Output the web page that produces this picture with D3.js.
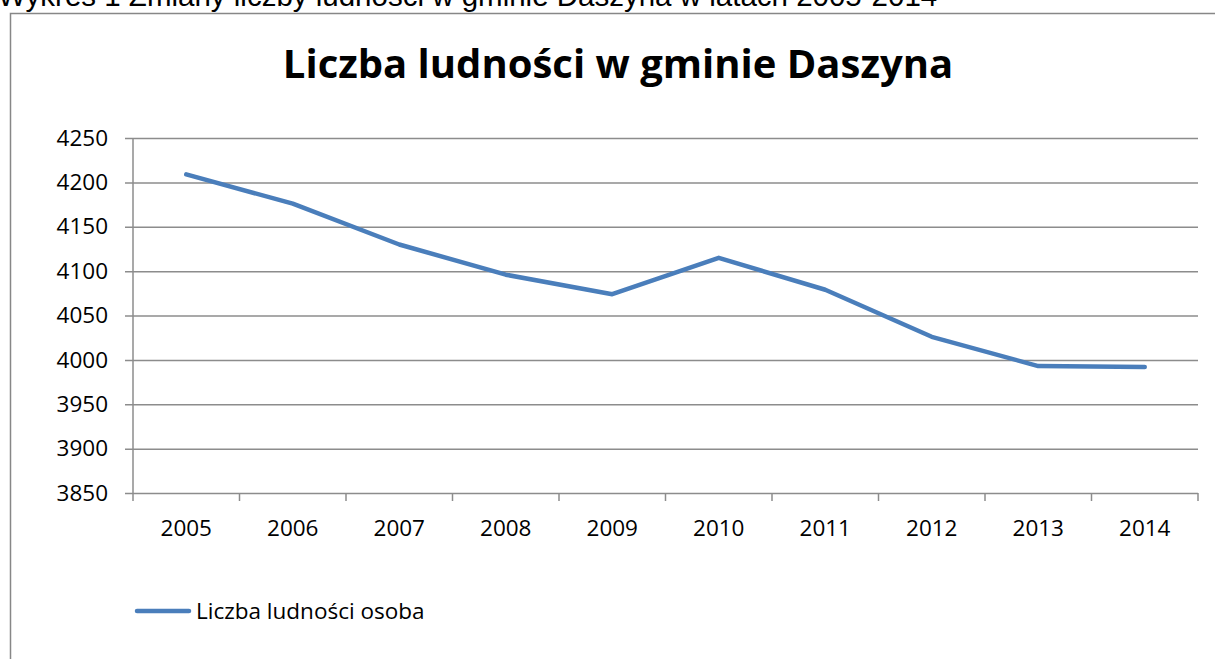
<!DOCTYPE html>
<html>
<head>
<meta charset="utf-8">
<script src="https://cdn.jsdelivr.net/npm/d3@7"></script>
<style>
	body { margin: 0; background: #fff; overflow: hidden; }
	svg { display: block; }
	.caption { font-family: 'Liberation Sans', Arial, sans-serif; font-size: 29.5px; fill: #000; }
	.title { font-family: 'Open Sans', 'Noto Sans', sans-serif; font-weight: bold; font-size: 40px; fill: #000; }
	.labels text { font-family: 'Open Sans', 'Noto Sans', sans-serif; font-size: 22.5px; fill: #000; }
	.labels line, .labels path { stroke: #8c8c8c; stroke-width: 1.5; }
	.legend-text { font-family: 'Open Sans', 'Noto Sans', sans-serif; font-size: 22.5px; fill: #000; }
</style>
</head>
<body>
<svg></svg>
<script>
const years = ['2005', '2006', '2007', '2008', '2009', '2010', '2011', '2012', '2013', '2014'];
const population = [4209, 4176, 4130, 4096, 4074, 4115, 4079, 4026, 3993, 3992];
const yTicks = [3850, 3900, 3950, 4000, 4050, 4100, 4150, 4200, 4250];
const seriesName = 'Liczba ludności osoba';
const chartTitle = 'Liczba ludności w gminie Daszyna';
const caption = 'Wykres 1 Zmiany liczby ludności w gminie Daszyna w latach 2005-2014';

const width = 1215;
const height = 659;
const margin = { top: 138, right: 17, bottom: 166, left: 133 };
const innerWidth = width - margin.left - margin.right;
const innerHeight = height - margin.top - margin.bottom;

const svg = d3.select('svg')
	.attr('width', width)
	.attr('height', height);

// caption above the chart frame, cut off by the page top
svg.append('text')
	.attr('class', 'caption')
	.attr('x', -2)
	.attr('y', 6)
	.text(caption);

// chart frame
svg.append('rect')
	.attr('x', 10.5)
	.attr('y', 13.5)
	.attr('width', 1220)
	.attr('height', 700)
	.attr('fill', 'none')
	.attr('stroke', '#878787')
	.attr('stroke-width', 1.5);

svg.append('text')
	.attr('class', 'title')
	.attr('x', 618)
	.attr('y', 78)
	.attr('text-anchor', 'middle')
	.text(chartTitle);

const xScale = d3.scaleBand()
	.domain(years)
	.range([0, innerWidth]);

const yScale = d3.scaleLinear()
	.domain([3850, 4250])
	.range([innerHeight, 0]);

const g = svg.append('g')
	.attr('transform', `translate(${margin.left},${margin.top})`);

const yAxisGroup = g.append('g')
	.attr('class', 'labels')
	.call(d3.axisLeft(yScale)
		.tickValues(yTicks)
		.tickFormat(d3.format('d'))
		.tickSize(-innerWidth)
		.tickPadding(25));

yAxisGroup.select('.domain').remove();
yAxisGroup.selectAll('.tick line').attr('x1', -8);

g.append('line')
	.attr('x1', 0).attr('x2', 0)
	.attr('y1', 0).attr('y2', innerHeight + 8)
	.attr('stroke', '#8c8c8c')
	.attr('stroke-width', 1.5);

const xAxisGroup = g.append('g')
	.attr('class', 'labels')
	.attr('transform', `translate(0,${innerHeight})`)
	.call(d3.axisBottom(xScale).tickSize(0).tickPadding(27));

xAxisGroup.select('.domain').remove();

g.selectAll('line.xtick').data(years)
	.enter().append('line')
		.attr('class', 'xtick')
		.attr('x1', d => xScale(d) + xScale.bandwidth())
		.attr('x2', d => xScale(d) + xScale.bandwidth())
		.attr('y1', innerHeight)
		.attr('y2', innerHeight + 8)
		.attr('stroke', '#8c8c8c')
		.attr('stroke-width', 1.5);

const line = d3.line()
	.x((d, i) => xScale(years[i]) + xScale.bandwidth() / 2)
	.y(d => yScale(d));

g.append('path')
	.datum(population)
	.attr('d', line)
	.attr('fill', 'none')
	.attr('stroke', '#4a7ebb')
	.attr('stroke-width', 4.5)
	.attr('stroke-linejoin', 'round')
	.attr('stroke-linecap', 'round');

// legend
const legend = svg.append('g')
	.attr('transform', 'translate(137,611)');

legend.append('line')
	.attr('x1', 0).attr('x2', 52)
	.attr('stroke', '#4a7ebb')
	.attr('stroke-width', 4.5)
	.attr('stroke-linecap', 'round');

legend.append('text')
	.attr('class', 'legend-text')
	.attr('x', 59)
	.attr('y', 8)
	.text(seriesName);
</script>
</body>
</html>
